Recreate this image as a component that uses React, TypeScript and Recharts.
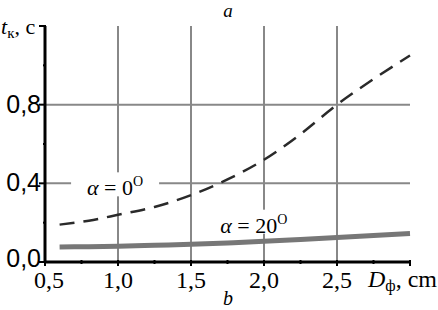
import React from 'react';
import { LineChart, Line, XAxis, YAxis, CartesianGrid, ReferenceDot } from 'recharts';

// D_ф, cm
const diameters = [0.6, 0.8, 1.0, 1.25, 1.5, 1.75, 2.0, 2.25, 2.5, 2.75, 3.0];
// t_к, s for α = 0°
const timeAlpha0 = [0.19, 0.21, 0.24, 0.28, 0.34, 0.42, 0.52, 0.65, 0.8, 0.93, 1.05];
// t_к, s for α = 20°
const timeAlpha20 = [0.076, 0.078, 0.08, 0.085, 0.09, 0.097, 0.105, 0.115, 0.125, 0.135, 0.145];

const xTicks = [0.5, 0.75, 1.0, 1.25, 1.5, 1.75, 2.0, 2.25, 2.5, 2.75, 3.0];
const xLabels = [0.5, 1.0, 1.5, 2.0, 2.5];
const yTicks = [0, 0.2, 0.4, 0.6, 0.8, 1.0, 1.2];
const yLabels = [0, 0.4, 0.8];

const data = diameters.map((d, i) => ({ d, a0: timeAlpha0[i], a20: timeAlpha20[i] }));

const SERIF = 'Liberation Serif, serif';
const SANS = 'Liberation Sans, sans-serif';

const fmt = (v: number) => v.toFixed(1).replace('.', ',');

const XTick = (props: any) => {
    const { x, y, payload } = props;
    const v = payload.value;
    const major = xLabels.includes(v) || v === 3.0;
    return (
        <g>
            <line x1={x} y1={y - 2} x2={x} y2={y + (major ? 4 : 2)} stroke="#000" strokeWidth={2} />
            {xLabels.includes(v) && (
                <text x={v === 0.5 ? x + 4 : x} y={y + 26} textAnchor="middle" fontFamily={SERIF} fontSize={24} fill="#000">
                    {fmt(v)}
                </text>
            )}
        </g>
    );
};

const YTick = (props: any) => {
    const { x, y, payload } = props;
    const v = payload.value;
    const major = yLabels.includes(v) || v === 1.2;
    return (
        <g>
            <line x1={x - (major ? 6 : 2)} y1={y} x2={x + 1} y2={y} stroke="#000" strokeWidth={2} />
            {yLabels.includes(v) && (
                <text x={x - 4} y={v === 0 ? y + 5 : y + 8} textAnchor="end" fontFamily={SANS} fontSize={25} fill="#000">
                    {fmt(v)}
                </text>
            )}
        </g>
    );
};

const curveLabel = (big: string, w: number) => (props: any) => {
    const { cx, cy } = props;
    return (
        <g>
            <rect x={cx - w / 2} y={cy - 11} width={w} height={24} fill="#fff" />
            <text x={cx} y={cy + 12} textAnchor="middle" fontFamily={SERIF} fontSize={22} fill="#000">
                <tspan fontStyle="italic">α</tspan>
                <tspan> = {big}</tspan>
                <tspan fontSize={14} dy={-9}>O</tspan>
            </text>
        </g>
    );
};

export default function App() {
    return (
        <div style={{ position: 'absolute', left: 0, top: 0, width: 438, height: 310, background: '#fff' }}>
            <LineChart
                width={438}
                height={310}
                data={data}
                margin={{ top: 26, right: 28, bottom: 0, left: 0 }}
            >
                <CartesianGrid
                    stroke="#888"
                    strokeWidth={2}
                    horizontalValues={[0.4, 0.8]}
                    verticalValues={[1.0, 1.5, 2.0, 2.5]}
                />
                <XAxis
                    dataKey="d"
                    type="number"
                    domain={[0.5, 3.0]}
                    ticks={xTicks}
                    interval={0}
                    height={48}
                    tickSize={0}
                    tickMargin={0}
                    tick={<XTick />}
                    axisLine={{ stroke: '#000', strokeWidth: 3 }}
                />
                <XAxis
                    xAxisId="top"
                    orientation="top"
                    dataKey="d"
                    type="number"
                    domain={[0.5, 3.0]}
                    height={0}
                    tick={false}
                    tickLine={false}
                    axisLine={{ stroke: '#000', strokeWidth: 3 }}
                />
                <YAxis
                    type="number"
                    domain={[0, 1.2]}
                    ticks={yTicks}
                    interval={0}
                    width={45}
                    tickSize={0}
                    tickMargin={0}
                    tick={<YTick />}
                    axisLine={{ stroke: '#000', strokeWidth: 3 }}
                />
                <YAxis
                    yAxisId="right"
                    orientation="right"
                    type="number"
                    domain={[0, 1.2]}
                    width={0}
                    tick={false}
                    tickLine={false}
                    axisLine={{ stroke: '#000', strokeWidth: 3 }}
                />
                <ReferenceDot x={0.98} y={0.4} r={0} shape={curveLabel('0', 88)} />
                <ReferenceDot x={1.93} y={0.21} r={0} shape={curveLabel('20', 84)} />
                <Line
                    dataKey="a0"
                    type="monotone"
                    stroke="#2a2a2a"
                    strokeWidth={2.5}
                    strokeDasharray="15 9"
                    dot={false}
                    isAnimationActive={false}
                />
                <Line
                    dataKey="a20"
                    type="monotone"
                    stroke="#777"
                    strokeWidth={5}
                    dot={false}
                    isAnimationActive={false}
                />
            </LineChart>
            <svg width={438} height={310} style={{ position: 'absolute', left: 0, top: 0, pointerEvents: 'none' }}>
                <text x={228} y={17} textAnchor="middle" fontFamily={SERIF} fontSize={19} fontStyle="italic">a</text>
                <text x={1} y={34} fontFamily={SERIF} fontSize={22}>
                    <tspan fontStyle="italic">t</tspan>
                    <tspan fontSize={15} dy={4}>к</tspan>
                    <tspan dy={-4}>, с</tspan>
                </text>
                <text x={437} y={287} textAnchor="end" fontFamily={SERIF} fontSize={24}>
                    <tspan fontStyle="italic">D</tspan>
                    <tspan fontSize={16} dy={4}>ф</tspan>
                    <tspan dy={-4}>, cm</tspan>
                </text>
                <text x={228} y={305} textAnchor="middle" fontFamily={SERIF} fontSize={20} fontStyle="italic">b</text>
            </svg>
        </div>
    );
}
